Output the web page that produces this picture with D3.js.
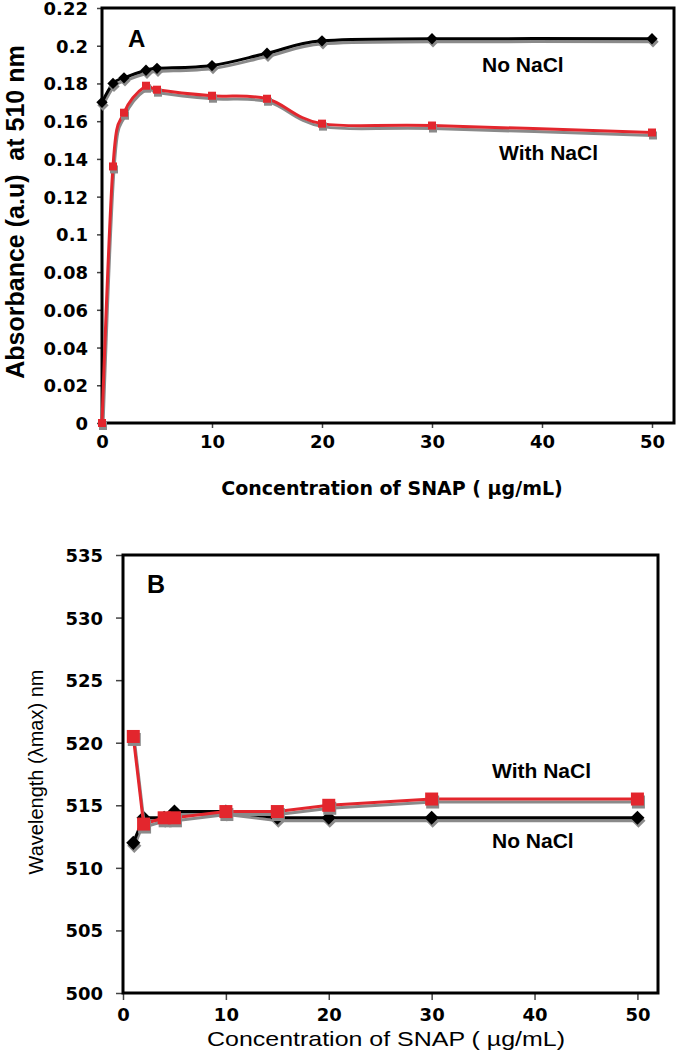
<!doctype html>
<html>
<head>
<meta charset="utf-8">
<title>SNAP absorbance and wavelength</title>
<style>
  body { margin: 0; background: #fff; }
  svg { display: block; }
  text { white-space: pre; }
</style>
</head>
<body>
<script src="https://d3js.org/d3.v7.min.js"></script>
<script>
// ---- data ----
var concA = [0, 1, 2, 4, 5, 10, 15, 20, 30, 50];
var absNoNaCl = [0.170, 0.180, 0.183, 0.187, 0.188, 0.1895, 0.196, 0.2026, 0.2037, 0.2037];
var absWithNaCl = [0, 0.136, 0.1645, 0.1788, 0.1767, 0.1735, 0.1719, 0.1587, 0.1577, 0.154];

var concB = [1, 2, 4, 5, 10, 15, 20, 30, 50];
var wlNoNaCl = [512, 514, 514, 514.5, 514.5, 514, 514, 514, 514];
var wlWithNaCl = [520.5, 513.5, 514, 514, 514.5, 514.5, 515, 515.5, 515.5];

var concTicks = [0, 10, 20, 30, 40, 50];
var absTicks = [0, 0.02, 0.04, 0.06, 0.08, 0.1, 0.12, 0.14, 0.16, 0.18, 0.2, 0.22];
var wlTicks = [500, 505, 510, 515, 520, 525, 530, 535];

var red = "#e3262d";
var shadow = "#8a8a8a";

var w = 676, h = 1050;
var svg = d3.select("body").append("svg")
    .attr("width", w)
    .attr("height", h);
svg.append("rect").attr("width", w).attr("height", h).attr("fill", "#fff");

// one panel: frame, axes, lines with a grey drop shadow, markers
function panel(o) {
    var x = d3.scaleLinear().domain([0, 52]).range([o.left, o.right]);
    var y = d3.scaleLinear().domain(o.yDomain).range([o.bottom, o.top]);
    var g = svg.append("g");

    var xAxis = d3.axisBottom(x).tickValues(concTicks).tickSize(o.tick).tickPadding(o.xPad);
    var yAxis = d3.axisLeft(y).tickValues(o.yTicks).tickSize(o.tick).tickPadding(o.yPad)
        .tickFormat(o.yFormat);

    var gx = g.append("g").attr("transform", "translate(0," + o.bottom + ")").call(xAxis);
    var gy = g.append("g").attr("transform", "translate(" + o.left + ",0)").call(yAxis);
    [gx, gy].forEach(function (a) {
        a.select(".domain").remove();
        a.selectAll(".tick line").attr("stroke", "#444").attr("stroke-width", 1.5);
        a.selectAll(".tick text")
            .attr("fill", "#000")
            .style("font-family", "'DejaVu Sans', Verdana, sans-serif")
            .style("font-weight", "bold")
            .style("font-size", "18px");
    });
    gy.selectAll(".tick text").attr("dy", "0.36em");

    g.append("rect")
        .attr("x", o.left).attr("y", o.top)
        .attr("width", o.right - o.left).attr("height", o.bottom - o.top)
        .attr("fill", "none").attr("stroke", "#000").attr("stroke-width", 3);

    var line = d3.line()
        .x(function (d) { return x(d[0]); })
        .y(function (d) { return y(d[1]); })
        .curve(o.curve);

    o.series.forEach(function (s) {
        var pts = o.xs.map(function (v, i) { return [v, s.values[i]]; });
        // shadow
        g.append("path").datum(pts)
            .attr("transform", "translate(1,3)")
            .attr("d", line).attr("fill", "none")
            .attr("stroke", shadow).attr("stroke-width", 3);
        g.append("path").datum(pts)
            .attr("d", line).attr("fill", "none")
            .attr("stroke", s.color).attr("stroke-width", 3);

        var sym = d3.symbol(d3.symbolSquare, s.area);
        var rot = s.diamond ? " rotate(45)" : "";
        g.selectAll(null).data(pts).enter().append("path")
            .attr("transform", function (d) { return "translate(" + (x(d[0]) + 1) + "," + (y(d[1]) + 3) + ")" + rot; })
            .attr("d", sym).attr("fill", shadow);
        g.selectAll(null).data(pts).enter().append("path")
            .attr("transform", function (d) { return "translate(" + x(d[0]) + "," + y(d[1]) + ")" + rot; })
            .attr("d", sym).attr("fill", s.color);
    });

    o.texts.forEach(function (t) {
        var el = g.append("text")
            .attr("transform", "translate(" + t.x + "," + t.y + ")" + (t.rotate ? " rotate(-90)" : ""))
            .attr("text-anchor", t.anchor || "start")
            .style("font-family", t.family || "'Liberation Sans', Arial, sans-serif")
            .style("font-weight", t.weight || "bold")
            .style("font-size", t.size + "px")
            .text(t.text);
        if (t.len) el.attr("textLength", t.len).attr("lengthAdjust", "spacingAndGlyphs");
    });
}

panel({
    left: 102, right: 674, top: 8, bottom: 423, tick: 5, xPad: 7, yPad: 9,
    yDomain: [0, 0.22], yTicks: absTicks,
    yFormat: function (d) { return String(+d.toFixed(2)); },
    xs: concA, curve: d3.curveCardinal.tension(0),
    series: [
        { values: absNoNaCl, color: "#000", diamond: true, area: 64 },
        { values: absWithNaCl, color: red, diamond: false, area: 64 }
    ],
    texts: [
        { text: "A", x: 128, y: 47, size: 24 },
        { text: "No NaCl", x: 482, y: 72, size: 21 },
        { text: "With NaCl", x: 499, y: 160, size: 21 },
        { text: "Concentration of SNAP ( \u00b5g/mL)", x: 392, y: 495, size: 19, anchor: "middle",
          family: "'DejaVu Sans', Verdana, sans-serif" },
        { text: "Absorbance (a.u)  at 510 nm", x: 24, y: 212, size: 25, anchor: "middle", rotate: true }
    ]
});

panel({
    left: 123, right: 658, top: 555, bottom: 993, tick: 7, xPad: 8, yPad: 13,
    yDomain: [500, 535], yTicks: wlTicks,
    yFormat: d3.format("d"),
    xs: concB, curve: d3.curveLinear,
    series: [
        { values: wlNoNaCl, color: "#000", diamond: true, area: 100 },
        { values: wlWithNaCl, color: red, diamond: false, area: 169 }
    ],
    texts: [
        { text: "B", x: 147, y: 593, size: 25 },
        { text: "With NaCl", x: 492, y: 778, size: 21 },
        { text: "No NaCl", x: 492, y: 848, size: 21 },
        { text: "Concentration of SNAP ( \u00b5g/mL)", x: 386, y: 1046, size: 21, anchor: "middle",
          weight: "normal", len: 358 },
        { text: "Wavelength (\u03bbmax) nm", x: 43, y: 772, size: 20, anchor: "middle", rotate: true,
          weight: "normal" }
    ]
});
</script>
</body>
</html>
